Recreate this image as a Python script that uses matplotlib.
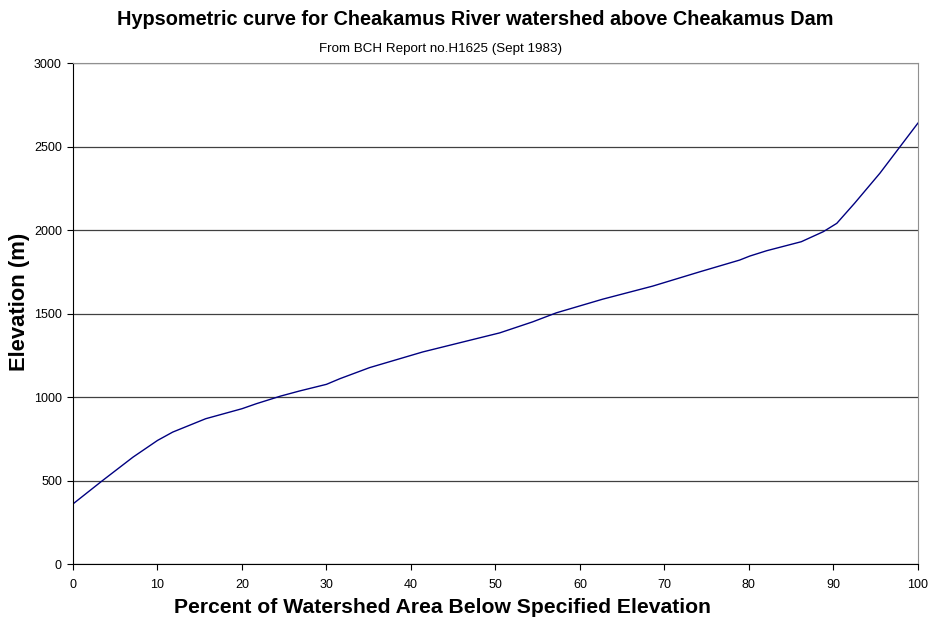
import numpy as np
import matplotlib.pyplot as plt

# percent of watershed area below elevation, elevation (m)
pct = [0, 3.5, 7.1, 10, 11.8, 15.7, 20, 21.7, 24.6, 26.8, 30, 31.6, 35.1, 41.4,
       47.3, 50.5, 54.4, 57.2, 62.7, 68.6, 74.2, 78.9, 80.1, 82.1, 86.2, 88.8,
       90.4, 92.5, 95.5, 97.9, 100]
elev = [360, 500, 640, 740, 790, 870, 930, 960, 1006, 1036, 1076, 1110, 1176, 1270,
        1344, 1384, 1450, 1504, 1586, 1664, 1750, 1820, 1844, 1876, 1930, 1990,
        2040, 2160, 2340, 2500, 2640]

plt.rcParams['font.family'] = ['Liberation Sans', 'DejaVu Sans']

fig = plt.figure(figsize=(9.3, 6.22), dpi=100)
ax = fig.add_axes([0.0785, 0.0932, 0.9085, 0.8055])

ax.plot(pct, elev, color='#000080', lw=1.0)

ax.set_xlim(0, 100)
ax.set_ylim(0, 3000)
ax.set_xticks(np.arange(0, 101, 10))
ax.set_yticks(np.arange(0, 3001, 500))
ax.yaxis.grid(True, color='#404040', lw=0.9)
ax.set_axisbelow(True)
ax.tick_params(labelsize=9, length=4, width=0.8, direction='out')
ax.tick_params(axis='x', pad=7)
ax.tick_params(axis='y', pad=4)
for s in ['top', 'right']:
    ax.spines[s].set_color('#909090')
ax.spines['left'].set_color('black')
ax.spines['bottom'].set_color('black')

fig.text(0.511, 0.968, "Hypsometric curve for Cheakamus River watershed above Cheakamus Dam",
         ha='center', va='center', fontsize=14.3, fontweight='bold')
fig.text(0.474, 0.922, "From BCH Report no.H1625 (Sept 1983)",
         ha='center', va='center', fontsize=9.6)
fig.text(0.476, 0.024, "Percent of Watershed Area Below Specified Elevation",
         ha='center', va='center', fontsize=15.2, fontweight='bold')
fig.text(0.021, 0.515, "Elevation (m)", ha='center', va='center', rotation=90,
         fontsize=15.8, fontweight='bold')

fig.savefig("out.png", dpi=100)
